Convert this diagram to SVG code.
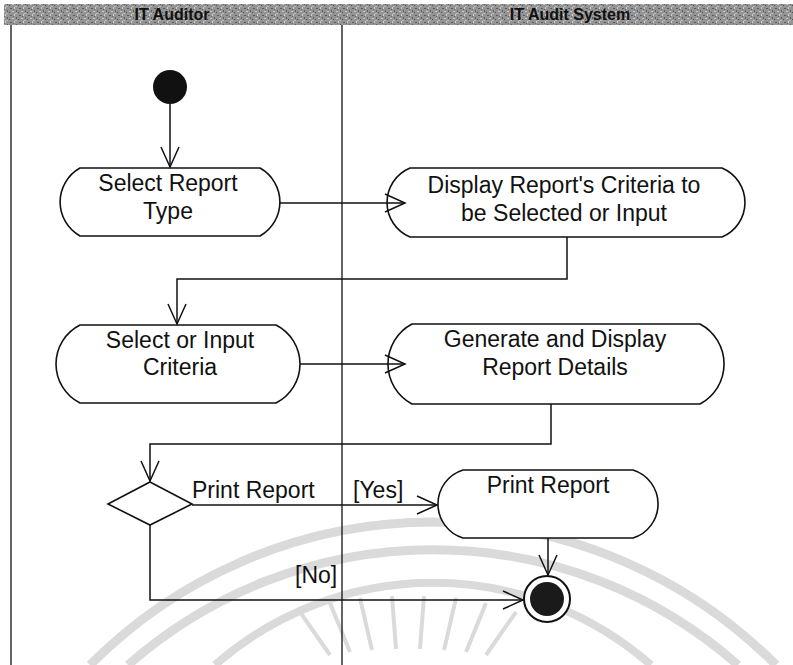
<svg xmlns="http://www.w3.org/2000/svg" width="793" height="665" viewBox="0 0 793 665">
  <defs>
    <pattern id="noise" width="9" height="7" patternUnits="userSpaceOnUse">
      <rect width="9" height="7" fill="#949494"/>
      <rect x="1" y="1" width="2" height="1" fill="#5a5a5a"/>
      <rect x="5" y="0" width="1" height="2" fill="#d0d0d0"/>
      <rect x="3" y="4" width="2" height="1" fill="#c8c8c8"/>
      <rect x="7" y="3" width="1" height="2" fill="#606060"/>
      <rect x="0" y="5" width="1" height="1" fill="#4e4e4e"/>
      <rect x="6" y="6" width="2" height="1" fill="#bcbcbc"/>
      <rect x="4" y="2" width="1" height="1" fill="#6a6a6a"/>
    </pattern>
    <marker id="arr" markerUnits="userSpaceOnUse" markerWidth="24" markerHeight="22" viewBox="-22 -11 24 22" refX="0" refY="0" orient="auto">
      <path d="M-20,-9 L0,0 L-20,9" fill="none" stroke="#111" stroke-width="1.5"/>
    </marker>
    <style>
      .node { fill: #fff; stroke: #111; stroke-width: 1.6; }
      .lbl { font-family: "Liberation Sans", Arial, sans-serif; font-size: 23px; fill: #111; }
      .ctr { text-anchor: middle; }
      .hdr { font-family: "Liberation Sans", Arial, sans-serif; font-size: 16px; font-weight: bold; fill: #111; text-anchor: middle; }
      .edge { fill: none; stroke: #111; stroke-width: 1.5; marker-end: url(#arr); }
      .lane { stroke: #111; stroke-width: 1.3; }
      .wm { fill: none; stroke: #dadada; }
    </style>
  </defs>

  <rect width="793" height="665" fill="#fff"/>

  <!-- watermark -->
  <g id="watermark">
    <path class="wm" stroke-width="9" d="M90,665 A483,483 0 0 1 776,665"/>
    <path class="wm" stroke-width="9" d="M128,665 A461,461 0 0 1 738,665"/>
    <path class="wm" stroke-width="8" d="M215,665 A330,330 0 0 1 651,665"/>
    <g stroke="#dadada" stroke-width="4">
      <line x1="300" y1="612" x2="330" y2="655"/>
      <line x1="330" y1="603" x2="350" y2="652"/>
      <line x1="360" y1="598" x2="372" y2="650"/>
      <line x1="392" y1="596" x2="396" y2="649"/>
      <line x1="424" y1="596" x2="420" y2="649"/>
      <line x1="456" y1="598" x2="444" y2="650"/>
      <line x1="486" y1="603" x2="466" y2="652"/>
      <line x1="516" y1="612" x2="486" y2="655"/>
    </g>
  </g>

  <!-- header -->
  <g id="header">
    <rect x="4" y="4" width="789" height="21" fill="url(#noise)"/>
    <text class="hdr" x="172" y="20">IT Auditor</text>
    <text class="hdr" x="570" y="20">IT Audit System</text>
  </g>

  <!-- swimlanes -->
  <g id="lanes">
    <line class="lane" x1="11" y1="25" x2="11" y2="665"/>
    <line class="lane" x1="342" y1="25" x2="342" y2="665"/>
  </g>

  <g id="start">
    <circle cx="170" cy="87" r="17" fill="#111"/>
  </g>

  <g id="select-report-type">
    <path class="node" d="M80,168 H260 A39,39 0 0 1 260,236 H80 A39,39 0 0 1 80,168 Z"/>
    <text class="lbl ctr" x="168" y="191">Select Report</text>
    <text class="lbl ctr" x="168" y="219">Type</text>
  </g>

  <g id="display-criteria">
    <path class="node" d="M410,168 H722 A37.4,37.4 0 0 1 722,237 H410 A37.4,37.4 0 0 1 410,168 Z"/>
    <text class="lbl ctr" x="564" y="193">Display Report's Criteria to</text>
    <text class="lbl ctr" x="564" y="221">be Selected or Input</text>
  </g>

  <g id="select-criteria">
    <path class="node" d="M80,325 H276 A43.7,43.7 0 0 1 276,403 H80 A43.7,43.7 0 0 1 80,325 Z"/>
    <text class="lbl ctr" x="180" y="348">Select or Input</text>
    <text class="lbl ctr" x="180" y="375">Criteria</text>
  </g>

  <g id="generate-report">
    <path class="node" d="M412,324 H700 A45.3,45.3 0 0 1 700,404 H412 A45.3,45.3 0 0 1 412,324 Z"/>
    <text class="lbl ctr" x="555" y="347">Generate and Display</text>
    <text class="lbl ctr" x="555" y="375">Report Details</text>
  </g>

  <g id="decision">
    <path class="node" d="M150,482 L192,504 L150,525 L108,504 Z"/>
    <text class="lbl" x="192" y="498">Print Report</text>
    <text class="lbl" x="353" y="498">[Yes]</text>
    <text class="lbl" x="295" y="583">[No]</text>
  </g>

  <g id="print-report">
    <path class="node" d="M463,470 H633 A35.6,35.6 0 0 1 633,538 H463 A35.6,35.6 0 0 1 463,470 Z"/>
    <text class="lbl ctr" x="548" y="493">Print Report</text>
  </g>

  <g id="end">
    <circle cx="547" cy="599" r="23" fill="#fff" stroke="#111" stroke-width="2"/>
    <circle cx="547" cy="599" r="17" fill="#1a1a1a"/>
  </g>

  <!-- connectors -->
  <g id="connectors">
    <path class="edge" d="M170,104 V167"/>
    <path class="edge" d="M280,203 H405"/>
    <path class="edge" d="M567,237 V279 H177 V324"/>
    <path class="edge" d="M300,364 H405"/>
    <path class="edge" d="M551,404 V444 H150 V481"/>
    <path class="edge" d="M192,505 H437"/>
    <path class="edge" d="M548,538 V575"/>
    <path class="edge" d="M150,525 V600 H523"/>
  </g>
</svg>
